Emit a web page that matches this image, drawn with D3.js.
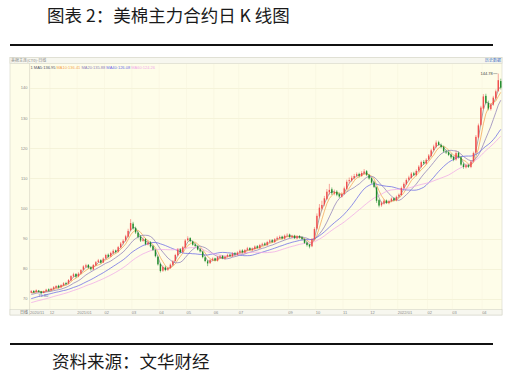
<!DOCTYPE html>
<html>
<head>
<meta charset="utf-8">
<style>
  body { margin: 0; background: #fff; }
  svg { display: block; font-family: "Noto Sans CJK SC", sans-serif; }
  .small { font-family: "Liberation Sans", Arial, sans-serif; font-size: 4px; fill: #8a8a8a; }
</style>
</head>
<body>
<svg width="526" height="376"></svg>
<script src="https://d3js.org/d3.v7.min.js"></script>
<script>

// K line data, one candle = about two trading days (2020/11 - 2022/04)
var opens = [
  72.1,72.7,72.3,72.8,72.5,72.0,72.6,73.2,72.9,73.3,
  73.8,74.4,73.9,74.5,75.3,75.1,76.2,77.5,78.3,77.5,
  78.5,79.7,80.7,81.3,80.5,79.8,81.2,82.3,82.9,82.1,
  83.5,84.7,84.1,85.2,86.1,85.7,87.1,88.5,89.4,90.7,
  92.8,95.0,93.5,92.0,90.7,89.3,89.9,88.1,88.8,87.5,
  86.2,84.0,81.6,79.4,80.5,79.7,80.3,81.3,82.6,84.5,
  86.5,85.6,87.1,89.5,90.2,89.1,88.1,87.5,86.5,85.7,
  83.8,82.5,81.9,83.0,83.5,82.7,83.8,84.3,83.4,84.1,
  84.7,84.2,85.2,84.7,85.5,86.1,85.4,86.3,86.9,86.2,
  86.6,87.5,86.9,88.0,88.4,87.9,89.0,89.5,88.9,89.9,
  90.2,90.7,90.0,91.1,91.4,90.5,91.0,90.1,90.9,90.5,
  89.8,88.7,88.0,87.5,89.9,93.4,97.4,100.0,101.4,103.2,
  105.4,106.4,105.0,105.6,104.7,103.9,104.9,106.5,109.1,109.3,
  110.1,110.9,111.5,110.8,111.7,112.4,111.1,110.1,108.7,107.0,
  102.8,101.1,101.7,102.7,101.8,102.5,103.4,102.7,104.0,104.5,
  106.9,108.1,109.6,110.2,111.7,111.1,112.6,113.8,115.5,114.9,
  116.3,117.5,119.4,120.5,122.0,121.1,120.5,118.9,118.7,117.9,
  117.1,116.3,118.5,117.0,114.7,113.7,114.4,113.8,115.7,118.6,
  123.6,127.8,133.2,137.4,135.0,133.0,134.5,136.6,139.1,142.3
];
var highs = [
  73.0,72.9,73.2,73.0,72.7,72.8,73.4,73.5,73.7,74.3,
  74.6,74.7,74.9,75.6,75.7,76.6,77.9,78.7,78.6,78.9,
  79.9,81.2,81.7,81.6,80.8,81.6,82.6,83.3,83.2,83.8,
  85.0,85.1,85.7,86.5,86.4,87.6,88.9,89.8,91.3,93.3,
  96.5,95.6,94.0,92.4,91.2,90.5,90.2,89.4,89.2,87.9,
  86.6,84.4,82.0,81.2,81.0,80.7,81.8,82.9,85.0,86.9,
  86.9,87.6,89.9,90.8,90.5,89.4,88.5,87.9,86.9,86.0,
  84.1,82.9,83.3,83.8,83.7,84.3,84.6,84.6,84.3,85.0,
  85.0,85.5,85.6,85.8,86.4,86.5,86.6,87.3,87.2,87.1,
  87.8,87.9,88.3,88.7,88.8,89.3,89.8,89.9,90.2,90.8,
  91.1,91.0,91.4,91.8,91.7,91.3,91.3,91.2,91.2,90.8,
  90.1,89.1,88.3,90.2,93.8,98.4,101.5,102.6,104.2,106.5,
  108.2,107.0,106.3,106.1,105.3,105.4,107.3,109.6,110.3,110.9,
  111.5,112.0,111.9,112.4,113.1,112.8,111.5,110.4,109.2,107.3,
  103.2,102.4,103.1,103.0,102.9,103.7,103.8,104.3,105.0,107.3,
  108.7,110.0,110.9,112.1,112.2,113.0,114.4,115.9,116.1,116.7,
  118.1,119.8,121.2,122.6,122.5,121.6,120.9,119.5,119.3,118.3,
  117.5,119.2,118.9,117.4,115.2,114.9,114.8,116.0,118.9,124.4,
  128.2,134.1,138.0,138.1,135.8,135.0,137.4,139.5,144.78,143.1
];
var lows = [
  72.0,72.0,72.1,72.2,71.8,71.9,72.4,72.5,72.7,73.1,
  73.5,73.5,73.7,74.3,74.6,74.9,75.9,77.2,77.0,77.2,
  78.2,79.4,80.4,80.1,79.4,79.6,81.0,82.0,81.7,81.9,
  83.2,83.7,83.9,84.9,85.2,85.4,86.8,88.1,89.0,90.4,
  92.5,93.0,91.6,90.1,88.9,89.0,87.8,87.8,87.0,85.9,
  83.8,81.1,78.8,79.0,79.2,79.3,80.0,81.0,82.4,84.2,
  85.1,85.3,86.9,89.1,88.8,87.7,87.2,86.1,85.4,83.5,
  82.2,80.9,81.6,82.6,82.5,82.4,83.5,83.2,83.1,83.8,
  83.9,83.9,84.4,84.4,85.2,85.1,85.1,86.0,86.0,85.9,
  86.3,86.7,86.6,87.7,87.6,87.6,88.7,88.6,88.6,89.5,
  89.9,89.8,89.7,90.7,90.2,90.2,89.9,89.8,90.0,89.5,
  88.3,87.4,86.8,87.2,89.5,93.0,96.8,99.4,100.8,102.8,
  104.6,104.5,104.4,104.1,103.5,103.6,104.6,106.2,108.4,108.8,
  109.6,110.4,110.3,110.5,111.3,110.8,109.6,108.2,106.8,101.9,
  100.4,100.6,101.3,101.5,101.4,102.1,102.4,102.4,103.7,104.3,
  106.5,107.8,109.2,109.9,110.8,110.7,112.2,113.5,114.5,114.6,
  115.9,117.1,119.0,120.1,120.8,120.0,118.6,118.1,117.4,116.5,
  115.7,115.9,116.6,114.2,113.2,113.3,113.5,113.4,115.4,118.3,
  123.2,127.3,132.9,134.6,132.6,132.5,134.1,136.2,138.7,139.5
];
var closes = [
  72.6,72.2,72.9,72.4,71.9,72.5,73.1,72.8,73.4,73.9,
  74.3,73.8,74.6,75.2,75.0,76.3,77.6,78.2,77.4,78.4,
  79.6,80.8,81.2,80.4,79.9,81.3,82.2,82.8,82.0,83.4,
  84.6,84.0,85.3,86.0,85.6,87.2,88.4,89.3,90.8,92.6,
  95.2,93.4,92.1,90.6,89.4,89.8,88.2,88.7,87.4,86.3,
  84.2,81.5,79.3,80.6,79.6,80.2,81.4,82.5,84.6,86.4,
  85.5,87.2,89.4,90.1,89.2,88.0,87.6,86.4,85.8,83.9,
  82.6,81.8,82.9,83.4,82.8,83.9,84.2,83.5,84.0,84.6,
  84.3,85.1,84.8,85.4,86.0,85.5,86.2,86.8,86.3,86.7,
  87.4,87.0,87.9,88.3,88.0,88.9,89.4,89.0,89.8,90.3,
  90.6,90.1,91.0,91.3,90.6,90.9,90.2,90.8,90.4,89.9,
  88.6,87.9,87.4,89.8,93.2,97.6,100.3,101.2,103.4,105.6,
  106.2,105.1,105.5,104.6,104.0,104.8,106.7,108.9,109.4,110.2,
  110.8,111.4,110.9,111.8,112.3,111.2,110.0,108.6,107.2,102.6,
  101.0,101.8,102.6,101.9,102.4,103.3,102.8,103.9,104.6,106.8,
  108.2,109.5,110.3,111.6,111.2,112.5,113.9,115.4,115.0,116.2,
  117.6,119.3,120.6,121.9,121.2,120.4,119.0,118.6,117.8,117.0,
  116.2,118.4,117.1,114.6,113.8,114.3,113.9,115.6,118.4,123.8,
  127.6,133.5,137.2,135.1,133.2,134.4,136.8,138.9,142.6,140.1
];
// closes before the visible window, needed for the moving averages
var preCloses = [
  65.4,65.8,65.5,66.0,66.3,66.1,66.6,66.3,65.9,66.5,
  67.0,67.5,67.9,67.6,68.2,68.8,68.6,69.2,69.7,69.4,
  70.1,70.8,70.4,71.2,71.7,71.3,71.9,71.5,72.2,71.8
];

var maNames = ["MA5", "MA10", "MA20", "MA40", "MA60"];
var maPeriods = [3, 5, 10, 20, 30];   // in candles
var maLegend = ["136.95", "136.41", "135.88", "126.08", "124.26"];
var maColors = ["#8c8c96", "#f3a653", "#8f7fb8", "#6a6ae6", "#f0a8e8"];
var legendColors = ["#4d4d66", "#f3a653", "#8f7fb8", "#6a6ae6", "#f0a8e8"];

var monthIdx = [0, 8, 19, 30, 41, 52, 63, 74, 84, 104, 115, 126, 137, 148, 160, 170, 182];
var monthLabels = ["2020/11", "12", "2021/01", "02", "03", "04", "05", "06", "07",
                   "09", "10", "11", "12", "2022/01", "02", "03", "04"];
var yTicks = [70, 80, 90, 100, 110, 120, 130, 140];

var svg = d3.select("svg");
var N = closes.length;

var x = d3.scaleBand().domain(d3.range(N)).range([30, 502]);
var y = d3.scaleLinear().domain([70, 140]).range([299, 88]);
var bw = x.bandwidth();

// title + rules
svg.append("text")
    .attr("x", 47).attr("y", 22)
    .attr("font-size", 17.5).attr("fill", "#1a1a1a")
    .text("图表 2：美棉主力合约日 K 线图");
svg.append("line").attr("x1", 10).attr("x2", 493).attr("y1", 45).attr("y2", 45)
    .attr("stroke", "#111").attr("stroke-width", 2);
svg.append("line").attr("x1", 10).attr("x2", 493).attr("y1", 344).attr("y2", 344)
    .attr("stroke", "#111").attr("stroke-width", 2);
svg.append("text")
    .attr("x", 52).attr("y", 368)
    .attr("font-size", 17.5).attr("fill", "#1a1a1a")
    .text("资料来源：文华财经");

// chart panel
svg.append("rect").attr("x", 10).attr("y", 57.5).attr("width", 492).attr("height", 257.5)
    .attr("fill", "#fefde9").attr("stroke", "#d6d6c8").attr("stroke-width", 0.6);
svg.append("rect").attr("x", 10).attr("y", 57.5).attr("width", 492).attr("height", 6)
    .attr("fill", "#f7f7ef").attr("stroke", "#d6d6c8").attr("stroke-width", 0.6);
svg.append("rect").attr("x", 10).attr("y", 309.5).attr("width", 492).attr("height", 5.5)
    .attr("fill", "#f7f7ef").attr("stroke", "#d6d6c8").attr("stroke-width", 0.6);
svg.append("line").attr("x1", 29.5).attr("x2", 29.5).attr("y1", 63.5).attr("y2", 315)
    .attr("stroke", "#cfcfc0").attr("stroke-width", 0.6);

svg.append("text").attr("class", "small").attr("x", 11).attr("y", 62)
    .style("font-family", "'Noto Sans CJK SC'").text("美棉主连(CT0)-日线");
svg.append("text").attr("class", "small").attr("x", 501).attr("y", 62)
    .attr("text-anchor", "end").style("fill", "#3a6cc0")
    .style("font-family", "'Noto Sans CJK SC'").text("历史数据");

// grid
svg.append("g").selectAll("line").data(yTicks).enter().append("line")
    .attr("x1", 30).attr("x2", 502)
    .attr("y1", function(d) { return Math.round(y(d)) + 0.5; })
    .attr("y2", function(d) { return Math.round(y(d)) + 0.5; })
    .attr("stroke", "#efeccf").attr("stroke-width", 0.6);
svg.append("g").selectAll("line").data(monthIdx).enter().append("line")
    .attr("x1", function(d) { return x(d); }).attr("x2", function(d) { return x(d); })
    .attr("y1", 64).attr("y2", 309.5)
    .attr("stroke", "#f6f3dd").attr("stroke-width", 0.5);

// y labels
svg.append("g").selectAll("text").data(yTicks).enter().append("text")
    .attr("class", "small")
    .attr("x", 27.5).attr("y", function(d) { return y(d) + 1.4; })
    .attr("text-anchor", "end")
    .text(function(d) { return d; });

// x labels
svg.append("g").selectAll("text").data(monthIdx).enter().append("text")
    .attr("class", "small")
    .attr("x", function(d) { return x(d); }).attr("y", 313.6)
    .text(function(d, i) { return monthLabels[i]; });
svg.append("text").attr("class", "small").attr("x", 20).attr("y", 313.6)
    .style("font-family", "'Noto Sans CJK SC'").style("fill", "#666").text("日线");

// legend
var lg = svg.append("text").attr("class", "small").attr("x", 30.5).attr("y", 68.5);
lg.append("tspan").style("fill", "#555").text("1  ");
maNames.forEach(function(n, k) {
  lg.append("tspan").style("fill", legendColors[k])
    .text(n + ":" + maLegend[k] + " ");
});

// plot
svg.append("clipPath").attr("id", "clip").append("rect")
    .attr("x", 30).attr("y", 64).attr("width", 472).attr("height", 245.5);
var plot = svg.append("g").attr("clip-path", "url(#clip)");

// moving averages
var all = preCloses.concat(closes);
var P = preCloses.length;
maPeriods.forEach(function(p, k) {
  var vals = d3.range(N).map(function(i) {
    return d3.mean(all.slice(P + i - p + 1, P + i + 1));
  });
  plot.append("path")
      .datum(vals)
      .attr("fill", "none")
      .attr("stroke", maColors[k])
      .attr("stroke-width", 0.75)
      .attr("d", d3.line()
          .x(function(d, i) { return x(i) + bw / 2; })
          .y(function(d) { return y(d); }));
});

// candles
var candle = plot.append("g").selectAll("g").data(d3.range(N)).enter().append("g");
function col(i) { return closes[i] >= opens[i] ? "#f04c4c" : "#1d8a2a"; }
candle.append("line")
    .attr("x1", function(i) { return x(i) + bw / 2; })
    .attr("x2", function(i) { return x(i) + bw / 2; })
    .attr("y1", function(i) { return y(Math.max(highs[i], opens[i], closes[i])); })
    .attr("y2", function(i) { return y(Math.min(lows[i], opens[i], closes[i])); })
    .attr("stroke", col).attr("stroke-width", 0.5);
candle.append("rect")
    .attr("x", function(i) { return x(i) + 0.55; })
    .attr("width", bw - 1.1)
    .attr("y", function(i) { return y(Math.max(opens[i], closes[i])); })
    .attr("height", function(i) { return Math.max(0.6, Math.abs(y(opens[i]) - y(closes[i]))); })
    .attr("fill", col);

// high / low marks
var hi = d3.maxIndex(highs), lo = d3.minIndex(lows);
var hx = x(hi) + bw / 2, hy = y(highs[hi]);
svg.append("line").attr("x1", hx - 5).attr("x2", hx - 0.8).attr("y1", hy).attr("y2", hy)
    .attr("stroke", "#555").attr("stroke-width", 0.4);
svg.append("text").attr("class", "small").style("fill", "#444")
    .attr("x", hx - 5.5).attr("y", hy + 1.4).attr("text-anchor", "end")
    .text(d3.format(".2f")(highs[hi]));
var lx = x(lo) + bw / 2, ly = y(lows[lo]);
svg.append("text").attr("class", "small").style("fill", "#5a6ab0")
    .attr("x", lx - 3).attr("y", ly + 3.2)
    .text(d3.format(".2f")(lows[lo]));

</script>
</body>
</html>
